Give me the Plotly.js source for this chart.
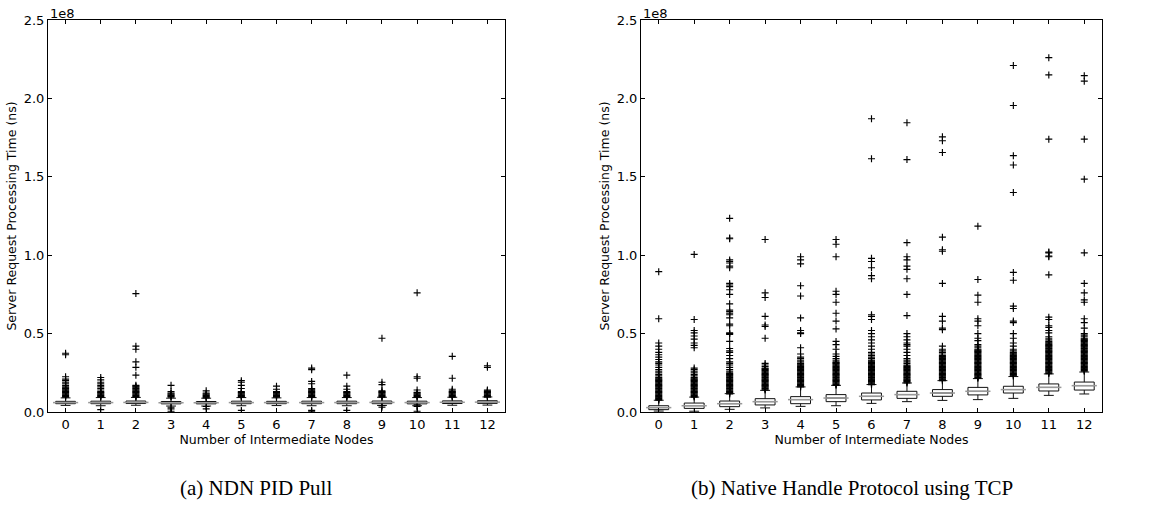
<!DOCTYPE html>
<html>
<head>
<meta charset="utf-8">
<script src="https://cdn.plot.ly/plotly-3.0.1.min.js"></script>
<style>html,body{margin:0;padding:0;background:#fff;}#chart{width:1155px;height:511px;}</style>
</head>
<body>
<div id="chart"></div>
<script>
// Values are in units of 1e6 ns (axis shows 1e8 offset labels)
const nodes = [0,1,2,3,4,5,6,7,8,9,10,11,12];
const yTickVals = [0, 50, 100, 150, 200, 250];
const yTickText = ['0.0','0.5','1.0','1.5','2.0','2.5'];

// (a) NDN PID Pull — box statistics
const q1A     = [5.3, 5.3, 5.4, 5.2, 5.2, 5.3, 5.3, 5.3, 5.3, 5.3, 5.2, 5.4, 5.5];
const medA    = [6.0, 6.0, 6.1, 5.9, 5.9, 6.0, 6.0, 6.0, 6.0, 6.1, 6.0, 6.2, 6.3];
const q3A     = [6.8, 6.9, 7.0, 6.7, 6.7, 6.9, 6.8, 6.9, 6.9, 7.0, 6.9, 7.1, 7.2];
const loA     = [4.2, 4.0, 4.3, 3.8, 3.8, 4.0, 4.1, 4.0, 4.0, 4.2, 4.0, 4.3, 4.4];
const hiA     = [9.0, 9.2, 9.3, 8.8, 8.8, 9.2, 9.0, 9.2, 9.2, 9.4, 9.2, 9.4, 9.6];
const outA = [
  [9.5,10,10.5,11,11.5,12,12.5,13,13.5,14,14.5,15,15.5,16,17,18,19,20,21,22.5,36.5,37.5],
  [1.5,9.5,10,10.5,11,11.5,12,12.5,13,14,15,16,17,18,19,20.5,22],
  [9.5,10,10.5,11,11.5,12,12.5,13,13.5,14,14.5,15,15.5,16,16.5,17,23.5,28.5,32,40,42,75.5],
  [0.5,2,3,9.5,10,10.5,11,11.5,12,13,17],
  [2,3.5,9,9.5,10,10.5,11,11.5,12,13.5],
  [1,9.5,10,10.5,11,11.5,12,12.5,13,15,17,19,20],
  [9.5,10,10.5,11,11.5,12,12.5,13,14.5,16.5],
  [0.5,1,9.5,10,10.5,11,11.5,12,12.5,13,13.5,14,14.5,15,18,19.5,27,28],
  [1,9.5,10,10.5,11,11.5,12,12.5,13,14.5,16.5,23.5],
  [3,4,9.5,10,10.5,11,11.5,12,12.5,13,13.5,17.5,19,47],
  [0.5,3.5,4.5,9.5,10,10.5,11,11.5,12,12.5,14,21.5,22.5,76],
  [9.5,10,10.5,11,11.5,12,12.5,13,13.5,14.5,21.5,35.5],
  [9.5,10,10.5,11,11.5,12,12.5,13,13.5,14,28.5,29.5]
];

// (b) Native Handle Protocol using TCP — box statistics
const q1B  = [1.5, 2.3, 3.4, 4.5, 5.3, 6.6, 7.7, 8.7, 10.0, 10.9, 12.1, 13.4, 14.0];
const medB = [2.8, 4.0, 5.3, 6.6, 7.9, 8.9, 10.0, 11.1, 12.1, 13.2, 14.3, 15.7, 16.8];
const q3B  = [4.0, 5.7, 7.0, 8.5, 9.8, 11.1, 12.1, 13.2, 14.3, 15.7, 16.4, 17.9, 19.1];
const loB  = [0.6, 0.5, 1.7, 2.6, 3.6, 4.0, 5.5, 6.6, 7.4, 7.9, 8.7, 10.6, 11.5];
const hiB  = [7.5, 9.5, 11.7, 13.8, 16.0, 17.0, 17.5, 18.5, 20.0, 21.3, 22.6, 24.3, 25.5];
const outB = [
  [7.5,8,8.5,9,9.5,10,10.5,11,11.5,12,12.5,13,13.5,14,14.5,15,15.5,16,16.5,17,17.5,18,18.5,19,19.5,20,20.5,21,21.5,22,
   23,24,25,26,27,28.5,30,31,32,33.5,35,36.5,38,40,42,44,59.5,89.5],
  [9.5,10,10.5,11,11.5,12,12.5,13,13.5,14,14.5,15,15.5,16,16.5,17,17.5,18,18.5,19,19.5,20,20.5,21,21.5,22,
   23,24,25,26,27,28,41,42.5,44,46.5,48.5,50.5,52,59,100.5],
  [11.5,12,12.5,13,13.5,14,14.5,15,15.5,16,16.5,17,17.5,18,18.5,19,19.5,20,20.5,21,21.5,22,22.5,23,23.5,24,24.5,25,
   26,27,28.5,30,31,32,34,36,38,39,40.5,45,49.5,50,50.5,55,56,60,62,63,64,65,69,75,78,80,81,82,92,93,95,96,97,110.5,111,123.5],
  [14,14.5,15,15.5,16,16.5,17,17.5,18,18.5,19,19.5,20,20.5,21,21.5,22,22.5,23,23.5,24,24.5,25,25.5,26,26.5,27,27.5,28,
   29,30,31,47,54.5,55.5,61,73,76,110],
  [16,16.5,17,17.5,18,18.5,19,19.5,20,20.5,21,21.5,22,22.5,23,23.5,24,24.5,25,25.5,26,26.5,27,27.5,28,28.5,29,29.5,30,30.5,31,
   32,33,34,35,37,41,50,50.5,52,60,74,80.5,94.5,97,99],
  [17,17.5,18,18.5,19,19.5,20,20.5,21,21.5,22,22.5,23,23.5,24,24.5,25,25.5,26,26.5,27,27.5,28,28.5,29,29.5,30,30.5,31,31.5,32,
   33,34,35.5,37,40,43,45,53,58,63,70,75,77,99,107,110],
  [17.5,18,18.5,19,19.5,20,20.5,21,21.5,22,22.5,23,23.5,24,24.5,25,25.5,26,26.5,27,27.5,28,28.5,29,29.5,30,30.5,31,31.5,32,32.5,33,
   34,35,36,37,38,40,42,44,46,48,50,52,59,61,62,85,87,92,96,98,161.5,187],
  [18.5,19,19.5,20,20.5,21,21.5,22,22.5,23,23.5,24,24.5,25,25.5,26,26.5,27,27.5,28,28.5,29,29.5,30,
   31,32,33,34,36,38,40,42,43,44,46,48,50,61.5,75,85,91,93,97,99,108,161,184.5],
  [20,20.5,21,21.5,22,22.5,23,23.5,24,24.5,25,25.5,26,26.5,27,27.5,28,28.5,29,29.5,30,30.5,31,31.5,32,32.5,33,33.5,34,34.5,35,35.5,36,
   37,38,39,40,42,52.5,53.5,58,61,82,102.5,103.5,111.5,165.5,173,175.5],
  [21.5,22,22.5,23,23.5,24,24.5,25,25.5,26,26.5,27,27.5,28,28.5,29,29.5,30,30.5,31,31.5,32,32.5,33,33.5,34,34.5,35,35.5,36,36.5,37,37.5,38,38.5,39,39.5,40,
   41,42,43,45.5,47,50,55,58,59.5,70,74.5,84.5,118.5],
  [23,23.5,24,24.5,25,25.5,26,26.5,27,27.5,28,28.5,29,29.5,30,30.5,31,31.5,32,32.5,33,33.5,34,34.5,35,35.5,36,36.5,37,37.5,38,
   39,40,42,44,47,50,57,58,66,67.5,84,89,140,157.5,163.5,195.5,221],
  [24.5,25,25.5,26,26.5,27,27.5,28,28.5,29,29.5,30,30.5,31,31.5,32,32.5,33,33.5,34,34.5,35,35.5,36,36.5,37,37.5,38,38.5,39,39.5,40,40.5,41,41.5,42,42.5,43,43.5,44,44.5,45,
   46,47,48,50.5,52,54,55,59,60.5,87.5,99,99.5,101.5,102,174,215,226],
  [26,26.5,27,27.5,28,28.5,29,29.5,30,30.5,31,31.5,32,32.5,33,33.5,34,34.5,35,35.5,36,36.5,37,37.5,38,38.5,39,39.5,40,40.5,41,41.5,42,42.5,43,43.5,44,44.5,45,45.5,46,46.5,47,
   48,49,50,53.5,57,59.5,70,71.5,76,82,101.5,148.5,174,211,214.5]
];

const captionA = '(a) NDN PID Pull';
const captionB = '(b) Native Handle Protocol using TCP';
const yTitle = 'Server Request Processing Time (ns)';
const xTitle = 'Number of Intermediate Nodes';

function flatten(out) {
  const xs = [], ys = [];
  out.forEach((vals, i) => vals.forEach(v => { xs.push(nodes[i]); ys.push(v); }));
  return {xs, ys};
}

function panel(q1, med, q3, lo, hi, out, xa, ya) {
  const f = flatten(out);
  return [
    {type:'box', x:nodes, q1:q1, median:med, q3:q3, lowerfence:lo, upperfence:hi,
     boxpoints:false, fillcolor:'#ffffff', line:{color:'#111', width:1},
     width:0.56, whiskerwidth:0.5, xaxis:xa, yaxis:ya, showlegend:false, hoverinfo:'skip'},
    {type:'scatter', mode:'markers', x:f.xs, y:f.ys, xaxis:xa, yaxis:ya, showlegend:false,
     marker:{symbol:'cross-thin', size:5, color:'#000', line:{color:'#000', width:1.15}}, hoverinfo:'skip'},
    {type:'scatter', mode:'markers', x:nodes, y:med, xaxis:xa, yaxis:ya, showlegend:false,
     marker:{symbol:'line-ew', size:18, color:'#999', line:{color:'#999', width:1.5}}, hoverinfo:'skip'}
  ];
}

const data = [].concat(
  panel(q1A, medA, q3A, loA, hiA, outA, 'x', 'y'),
  panel(q1B, medB, q3B, loB, hiB, outB, 'x2', 'y2')
);

const font = {family:'DejaVu Sans, sans-serif', size:13, color:'#000'};
function xaxis(domain, anchor) {
  return {domain:domain, anchor:anchor, range:[-0.5,12.5], tickvals:nodes, ticktext:nodes.map(String),
    ticks:'inside', ticklen:4, tickcolor:'#000', mirror:'ticks', showline:true, linecolor:'#000', linewidth:1,
    showgrid:false, zeroline:false, tickfont:{family:font.family, size:13},
    title:{text:xTitle, font:{family:font.family, size:12.5}, standoff:2}, automargin:false};
}
function yaxis(domain, anchor) {
  return {domain:domain, anchor:anchor, range:[0,250], tickvals:yTickVals, ticktext:yTickText,
    ticks:'inside', ticklen:4, tickcolor:'#000', mirror:'ticks', showline:true, linecolor:'#000', linewidth:1,
    showgrid:false, zeroline:false, tickfont:{family:font.family, size:13},
    title:{text:yTitle, font:{family:font.family, size:12.5}, standoff:4}, automargin:false};
}

const yDom = [1 - 412/511, 1 - 20/511];
const layout = {
  width:1155, height:511, margin:{l:0, r:0, t:0, b:0},
  paper_bgcolor:'#fff', plot_bgcolor:'#fff', font:font, showlegend:false,
  xaxis: xaxis([48/1155, 505/1155], 'y'),
  yaxis: yaxis(yDom, 'x'),
  xaxis2: xaxis([641/1155, 1102/1155], 'y2'),
  yaxis2: yaxis(yDom, 'x2'),
  annotations: [
    {xref:'paper', yref:'paper', x:48/1155, y:yDom[1], xanchor:'left', yanchor:'bottom', showarrow:false,
     text:'1e8', font:{family:font.family, size:13}, yshift:-3},
    {xref:'paper', yref:'paper', x:641/1155, y:yDom[1], xanchor:'left', yanchor:'bottom', showarrow:false,
     text:'1e8', font:{family:font.family, size:13}, yshift:-3},
    {xref:'paper', yref:'paper', x:256/1155, y:1-488/511, xanchor:'center', yanchor:'middle', showarrow:false,
     text:captionA, font:{family:'Liberation Serif, Times New Roman, serif', size:21}},
    {xref:'paper', yref:'paper', x:852/1155, y:1-488/511, xanchor:'center', yanchor:'middle', showarrow:false,
     text:captionB, font:{family:'Liberation Serif, Times New Roman, serif', size:21}}
  ]
};

Plotly.newPlot('chart', data, layout, {staticPlot:true, displayModeBar:false});
</script>
</body>
</html>
